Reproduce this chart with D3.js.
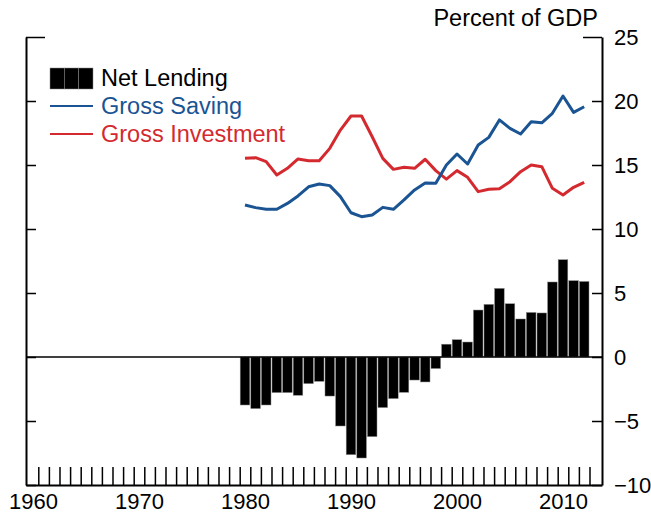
<!DOCTYPE html>
<html>
<head>
<meta charset="utf-8">
<script src="https://cdn.jsdelivr.net/npm/d3@7"></script>
<style>
  body { margin: 0; background: #fff; }
  svg { display: block; font-family: "Liberation Sans", Arial, sans-serif; }
</style>
</head>
<body>
<svg id="chart" width="651" height="522"></svg>
<script>
const years = d3.range(1980, 2013);
const netLending = [
  -3.75, -4.03, -3.75, -2.78, -2.78, -2.99, -2.08, -1.9, -3.05, -5.39,
  -7.63, -7.89, -6.22, -3.95, -3.25, -2.76, -1.8, -1.95, -0.9, 1.0,
  1.35, 1.17, 3.67, 4.11, 5.36, 4.16, 2.97, 3.48, 3.44, 5.86,
  7.6, 5.96, 5.9
];
const grossSaving = [
  11.88, 11.67, 11.54, 11.54, 12.0, 12.58, 13.3, 13.52, 13.39, 12.53,
  11.27, 10.96, 11.09, 11.69, 11.54, 12.27, 13.05, 13.6, 13.57, 15.0,
  15.86, 15.08, 16.56, 17.16, 18.52, 17.86, 17.42, 18.38, 18.3, 19.04,
  20.39, 19.11, 19.55
];
const grossInvestment = [
  15.52, 15.57, 15.26, 14.22, 14.74, 15.47, 15.34, 15.34, 16.3, 17.73,
  18.83, 18.83, 17.21, 15.52, 14.66, 14.82, 14.74, 15.45, 14.56, 13.9,
  14.56, 14.04, 12.92, 13.1, 13.15, 13.7, 14.48, 15.0, 14.87, 13.18,
  12.66, 13.26, 13.65
];
const yTicks = [-10, -5, 0, 5, 10, 15, 20, 25];
const xLabels = [1960, 1970, 1980, 1990, 2000, 2010];

const BLUE = "#1a5493";
const RED = "#d42a2f";

const plotLeft = 26, plotRight = 602, plotTop = 37, plotBottom = 485;

const svg = d3.select("#chart");

const x = d3.scaleLinear().domain([1959.34, 2013.68]).range([plotLeft, plotRight]);
const y = d3.scaleLinear().domain([-10, 25]).range([plotBottom, plotTop]);
const step = x(1961) - x(1960);

// bars
svg.append("g")
  .selectAll("rect")
  .data(years.map((yr, i) => ({ yr, v: netLending[i] })))
  .join("rect")
  .attr("x", d => x(d.yr) - step / 2 + 0.5)
  .attr("width", step - 1)
  .attr("y", d => y(Math.max(0, d.v)))
  .attr("height", d => Math.abs(y(d.v) - y(0)))
  .attr("fill", "#000")
  .attr("stroke", "#888")
  .attr("stroke-width", 0.5);

// zero line
svg.append("line")
  .attr("x1", plotLeft).attr("x2", plotRight)
  .attr("y1", y(0)).attr("y2", y(0))
  .attr("stroke", "#000").attr("stroke-width", 1.5);

const line = d3.line()
  .x((d, i) => x(years[i]))
  .y(d => y(d));

svg.append("path").datum(grossInvestment)
  .attr("d", line).attr("fill", "none")
  .attr("stroke", RED).attr("stroke-width", 3).attr("stroke-linejoin", "round");
svg.append("path").datum(grossSaving)
  .attr("d", line).attr("fill", "none")
  .attr("stroke", BLUE).attr("stroke-width", 3).attr("stroke-linejoin", "round");

// right axis with labels
const yRight = svg.append("g")
  .attr("transform", `translate(${plotRight},0)`)
  .call(d3.axisRight(y).tickValues(yTicks).tickSize(-10).tickPadding(12).tickSizeOuter(0));
yRight.selectAll(".tick line").filter(d => d === 25).attr("x2", -19);

// left axis, ticks only
const yLeft = svg.append("g")
  .attr("transform", `translate(${plotLeft},0)`)
  .call(d3.axisLeft(y).tickValues(yTicks).tickSize(-10).tickFormat("").tickSizeOuter(0));
yLeft.selectAll(".tick line").filter(d => d === 25).attr("x2", 19);

// bottom axis: year ticks between years
svg.append("g")
  .attr("transform", `translate(0,${plotBottom})`)
  .call(d3.axisBottom(x).tickValues(d3.range(1960.5, 2013, 1)).tickSize(-18).tickFormat("").tickSizeOuter(0));

svg.append("g")
  .attr("transform", `translate(0,${plotBottom})`)
  .call(d3.axisBottom(x).tickValues(xLabels).tickSize(0).tickPadding(8).tickFormat(d3.format("d")))
  .call(g => g.select(".domain").remove());

svg.selectAll(".domain").attr("stroke-width", 2);
svg.selectAll(".tick line").attr("stroke-width", 1.5);
svg.selectAll(".tick text").attr("font-size", 22).attr("fill", "#000")
  .attr("font-family", "Liberation Sans, Arial, sans-serif");

svg.append("text")
  .attr("x", 598).attr("y", 26)
  .attr("text-anchor", "end")
  .attr("font-size", 23.5)
  .text("Percent of GDP");

// legend
const lg = svg.append("g");
const sw = 43 / 3;
lg.selectAll("rect")
  .data([0, 1, 2])
  .join("rect")
  .attr("x", i => 50 + i * sw).attr("y", 68)
  .attr("width", sw).attr("height", 21)
  .attr("fill", "#000").attr("stroke", "#888").attr("stroke-width", 0.5);

const legendItems = [
  { label: "Net Lending", color: "#000", y: 78 },
  { label: "Gross Saving", color: BLUE, y: 106 },
  { label: "Gross Investment", color: RED, y: 134 }
];
legendItems.slice(1).forEach(d => {
  lg.append("line")
    .attr("x1", 50).attr("x2", 93)
    .attr("y1", d.y).attr("y2", d.y)
    .attr("stroke", d.color).attr("stroke-width", 2);
});
legendItems.forEach(d => {
  lg.append("text")
    .attr("x", 101).attr("y", d.y)
    .attr("dy", "0.35em")
    .attr("font-size", 23.5)
    .attr("fill", d.color)
    .text(d.label);
});
</script>
</body>
</html>
